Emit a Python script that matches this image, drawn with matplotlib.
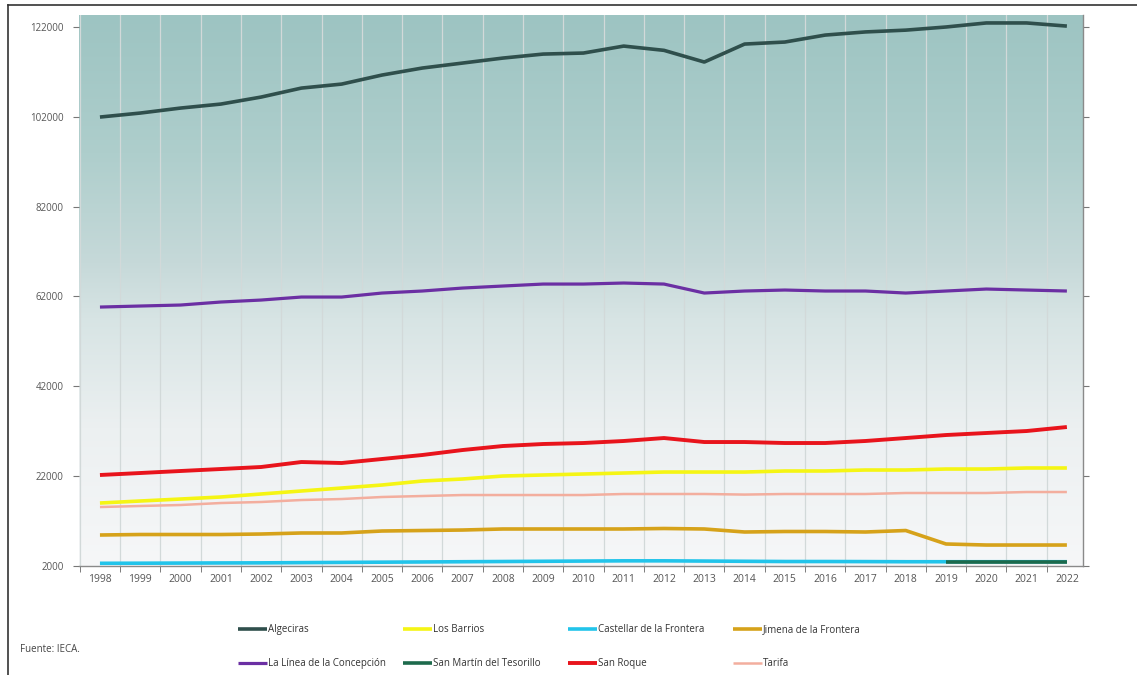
import numpy as np
import matplotlib
matplotlib.use("Agg")
import matplotlib.pyplot as plt
from matplotlib.colors import LinearSegmentedColormap
from matplotlib.lines import Line2D

years = list(range(1998, 2023))

algeciras = [101950, 102840, 103950, 104840, 106400, 108400, 109290, 111300, 112860, 113970,
             115080, 115970, 116200, 117750, 116800, 114200, 118200, 118650, 120200, 120900,
             121300, 122000, 122900, 122900, 122200]
los_barrios = [16020, 16470, 16910, 17360, 18030, 18700, 19360, 20030, 20920, 21370,
               22030, 22260, 22480, 22700, 22920, 22920, 22920, 23150, 23150, 23370,
               23370, 23590, 23590, 23820, 23820]
castellar = [2600, 2620, 2650, 2680, 2700, 2750, 2800, 2850, 2900, 2950,
             3000, 3050, 3100, 3150, 3150, 3100, 3050, 3000, 3000, 2980,
             2950, 2950, 2950, 2950, 2950]
jimena = [8900, 9010, 9010, 9010, 9120, 9350, 9350, 9790, 9900, 10010,
          10240, 10240, 10240, 10240, 10350, 10240, 9570, 9680, 9680, 9570,
          9900, 6900, 6670, 6670, 6670]
la_linea = [59650, 59880, 60100, 60770, 61210, 61880, 61880, 62770, 63220, 63880,
            64330, 64770, 64770, 65000, 64770, 62770, 63220, 63440, 63220, 63220,
            62770, 63220, 63660, 63440, 63220]
san_martin = [np.nan] * 21 + [2870, 2870, 2870, 2870]
san_roque = [22260, 22700, 23150, 23590, 24040, 25150, 24930, 25820, 26710, 27820,
             28710, 29160, 29380, 29830, 30490, 29600, 29600, 29380, 29380, 29830,
             30490, 31160, 31610, 32050, 32940]
tarifa = [15130, 15360, 15580, 16020, 16250, 16690, 16910, 17360, 17580, 17800,
          17800, 17800, 17800, 18030, 18030, 18030, 17900, 18030, 18030, 18030,
          18250, 18250, 18250, 18470, 18470]

names = ["Algeciras", "Los Barrios", "Castellar de la Frontera", "Jimena de la Frontera",
         "La Línea de la Concepción", "San Martín del Tesorillo", "San Roque", "Tarifa"]
series = [algeciras, los_barrios, castellar, jimena, la_linea, san_martin, san_roque, tarifa]
colors = ["#2f4f4c", "#f5f514", "#22c4ea", "#d6a21a", "#6b2fa3", "#1d6a4c", "#e8141c", "#f3ae9e"]
widths = [2.6, 2.6, 2.6, 2.6, 2.3, 2.6, 2.8, 1.8]

y_ticks = [2000, 22000, 42000, 62000, 82000, 102000, 122000]

plt.rcParams['font.family'] = ['Open Sans', 'DejaVu Sans']

fig = plt.figure(figsize=(11.37, 6.75), dpi=100)
ax = fig.add_axes([79/1137, 1 - 566/675, (1083-79)/1137, (566-15)/675])

# gradient background
def rgb(r, g, b):
    return (r/255, g/255, b/255)
stops = [(0.0, rgb(246, 247, 248)),
         (0.25, rgb(236, 240, 241)),
         (0.45, rgb(215, 228, 228)),
         (0.55, rgb(198, 217, 217)),
         (0.75, rgb(174, 206, 204)),
         (1.0, rgb(157, 196, 194))]
cmap = LinearSegmentedColormap.from_list("bg", stops)
grad = np.linspace(0, 1, 256).reshape(-1, 1)
ax.imshow(grad, cmap=cmap, aspect='auto', origin='lower',
          extent=[0, 1, 0, 1], transform=ax.transAxes, zorder=0)

handles = []
for vals, name, c, w in zip(series, names, colors, widths):
    ln, = ax.plot(years, vals, color=c, lw=w, label=name, zorder=3,
                  solid_joinstyle='round', solid_capstyle='butt')
    handles.append(ln)

ax.set_xlim(1997.48, 2022.40)
ax.set_ylim(2000, 124670)

ax.set_xticks(years)
ax.set_xticklabels([str(y) for y in years])
ax.set_xticks([y + 0.5 for y in range(1997, 2022)], minor=True)
ax.tick_params(axis='x', which='major', length=0, labelsize=7.5, labelcolor='#555555', pad=6)
ax.tick_params(axis='x', which='minor', length=4, color='#666666', direction='out')
ax.grid(True, axis='x', which='minor', color='#d2d9d9', lw=0.9, zorder=1)

ax.set_yticks(y_ticks)
ax.set_yticklabels([str(v) for v in y_ticks])
ax.tick_params(axis='y', which='major', length=4, labelsize=7, labelcolor='#555555',
               color='#777777', left=True, right=True, direction='out', pad=7)

for s in ['top', 'left']:
    ax.spines[s].set_visible(False)
for s in ['bottom', 'right']:
    ax.spines[s].set_color('#8a8a8a')
    ax.spines[s].set_linewidth(1.0)

# legend: four columns, two rows
col_x = [238, 403, 568, 733]
columns = [[0, 4], [1, 5], [2, 6], [3, 7]]
for cx, idx in zip(col_x, columns):
    leg = fig.legend([handles[i] for i in idx], [names[i] for i in idx],
                     loc='center left', bbox_to_anchor=(cx/1137, 1 - 646.5/675),
                     frameon=False, fontsize=7, handlelength=3.0, handletextpad=0.1,
                     labelspacing=2.35, borderpad=0, borderaxespad=0)
    for t in leg.get_texts():
        t.set_color('#333333')

fig.text(20/1137, 1 - 650/675, "Fuente: IECA.", fontsize=7, color='#444444', va='center')

# figure frame (top and left edges)
fig.add_artist(Line2D([8/1137, 8/1137], [0, 1 - 5/675], transform=fig.transFigure,
                      color='#333333', lw=1.2))
fig.add_artist(Line2D([8/1137, 1], [1 - 5/675, 1 - 5/675], transform=fig.transFigure,
                      color='#333333', lw=1.2))

fig.savefig("out.png", dpi=100, facecolor='white')
